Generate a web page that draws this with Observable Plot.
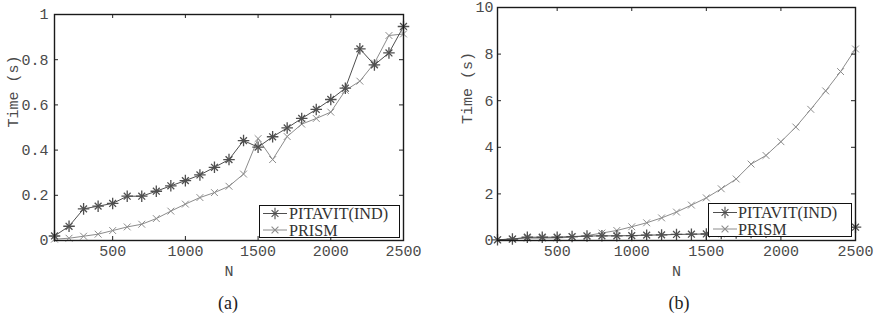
<!DOCTYPE html>
<html><head><meta charset="utf-8">
<script src="https://cdn.jsdelivr.net/npm/d3@7"></script>
<script src="https://cdn.jsdelivr.net/npm/@observablehq/plot@0.6"></script>
<style>
body{margin:0;background:#fff;}
#wrap{position:relative;width:874px;height:321px;overflow:hidden;background:#fff;}
.panel{position:absolute;top:0;}
.cap{position:absolute;font-family:"Liberation Serif","DejaVu Serif",serif;font-size:18px;color:#222;transform:translateX(-50%);white-space:nowrap;}
.legend{position:absolute;border:1.5px solid #111;background:#fff;box-sizing:border-box;}
</style></head>
<body><div id="wrap"></div>
<script>
// ---- data ----
const N = [100,200,300,400,500,600,700,800,900,1000,1100,1200,1300,1400,1500,1600,1700,1800,1900,2000,2100,2200,2300,2400,2500];
const seriesNames = ["PITAVIT(IND)", "PRISM"];
const pitavitA = [0.02,0.063,0.14,0.152,0.164,0.196,0.196,0.218,0.242,0.265,0.29,0.324,0.358,0.442,0.413,0.459,0.498,0.54,0.58,0.624,0.674,0.848,0.777,0.83,0.947];
const prismA   = [0.006,0.01,0.019,0.028,0.044,0.06,0.072,0.097,0.13,0.161,0.19,0.212,0.24,0.294,0.451,0.358,0.46,0.515,0.54,0.568,0.664,0.705,0.785,0.907,0.914];
const pitavitB = [0.03,0.06,0.14,0.14,0.14,0.17,0.19,0.2,0.2,0.21,0.23,0.24,0.26,0.27,0.28,0.3,0.32,0.34,0.36,0.39,0.42,0.45,0.49,0.53,0.57];
const prismB   = [0.03,0.07,0.1,0.1,0.11,0.14,0.21,0.32,0.43,0.59,0.76,0.97,1.22,1.52,1.83,2.22,2.64,3.28,3.65,4.24,4.87,5.63,6.42,7.25,8.22];
const xTicks = [500,1000,1500,2000,2500];
const yTicksA = [0,0.2,0.4,0.6,0.8,1];
const yTicksB = [0,2,4,6,8,10];
const xLabel = "N";
const yLabel = "Time (s)";
const captions = ["(a)", "(b)"];

const C_PIT = "#4f4f4f", C_PRI = "#8c8c8c", C_TXT = "#4a4a4a";
const wrap = document.getElementById("wrap");

function panel(cfg) {
  const {left, width, height, mL, mR, mT, mB, yDomain, yTicks, pit, pri, pad, ylabDx} = cfg;
  const rows = (ys) => N.map((n, i) => ({n, t: ys[i]}));
  const iw = width - mL - mR, ih = height - mT - mB;
  const tk = 4;
  const p = Plot.plot({
    width, height, marginLeft: mL, marginRight: mR, marginTop: mT, marginBottom: mB,
    style: {fontFamily: "'Liberation Mono', 'DejaVu Sans Mono', monospace", fontSize: "15px", color: C_TXT, background: "#fff", overflow: "visible"},
    x: {domain: [100, 2500]},
    y: {domain: yDomain},
    marks: [
      Plot.line(rows(pri), {x: "n", y: "t", stroke: C_PRI, strokeWidth: 1}),
      Plot.line(rows(pit), {x: "n", y: "t", stroke: C_PIT, strokeWidth: 1}),
      Plot.dot(rows(pri), {x: "n", y: "t", symbol: "times", r: 3.2, stroke: C_PRI, strokeWidth: 1}),
      Plot.dot(rows(pit), {x: "n", y: "t", symbol: "plus", r: 3.8, stroke: C_PIT, strokeWidth: 1.3}),
      Plot.dot(rows(pit), {x: "n", y: "t", symbol: "times", r: 3.2, stroke: C_PIT, strokeWidth: 1.3}),
      // inward ticks on all four sides
      Plot.tickY(yTicks, {y: d => d, insetRight: iw - tk, stroke: "#222"}),
      Plot.tickY(yTicks, {y: d => d, insetLeft: iw - tk, stroke: "#222"}),
      Plot.tickX(xTicks, {x: d => d, insetTop: ih - tk, stroke: "#222"}),
      Plot.tickX(xTicks, {x: d => d, insetBottom: ih - tk, stroke: "#222"}),
      Plot.frame({stroke: "#1a1a1a", strokeWidth: 1.4}),
      Plot.axisX(xTicks, {tickSize: 0, tickPadding: 5, label: null, tickFormat: d => String(d)}),
      Plot.axisY(yTicks, {tickSize: 0, tickPadding: pad, label: null, tickFormat: d => String(d)}),
      Plot.text([xLabel], {frameAnchor: "bottom", dy: 35, fill: C_TXT}),
      Plot.text([yLabel], {frameAnchor: "left", rotate: -90, dx: ylabDx, fill: C_TXT})
    ]
  });
  p.classList.add("panel");
  p.style.left = left + "px";
  wrap.appendChild(p);
}

panel({left: 0, width: 440, height: 321, mL: 54, mR: 37, mT: 14, mB: 81, yDomain: [0, 1], yTicks: yTicksA, pit: pitavitA, pri: prismA, pad: 6, ylabDx: -41});
panel({left: 440, width: 434, height: 321, mL: 57, mR: 19, mT: 7, mB: 81, yDomain: [0, 10], yTicks: yTicksB, pit: pitavitB, pri: prismB, pad: 4, ylabDx: -30});

function legend(x, y, w, h, lx0, lx1, tx, rowY) {
  const d = document.createElement("div");
  d.className = "legend";
  Object.assign(d.style, {left: x + "px", top: y + "px", width: w + "px", height: h + "px"});
  const svg = d3.create("svg").attr("width", w).attr("height", h).style("position", "absolute").style("left", "-1.5px").style("top", "-1.5px").style("overflow", "visible");
  const styles = [{c: C_PIT, sym: ["plus", "times"]}, {c: C_PRI, sym: ["times"]}];
  seriesNames.forEach((name, i) => {
    const yy = rowY[i];
    svg.append("line").attr("x1", lx0).attr("x2", lx1).attr("y1", yy).attr("y2", yy).attr("stroke", styles[i].c);
    styles[i].sym.forEach(s => {
      const sy = s === "plus" ? d3.symbolPlus : d3.symbolTimes;
      svg.append("path").attr("d", d3.symbol(sy, s === "plus" ? 45 : 32)()).attr("transform", `translate(${(lx0 + lx1) / 2},${yy})`)
        .attr("fill", "none").attr("stroke", styles[i].c).attr("stroke-width", 1.1);
    });
    svg.append("text").attr("x", tx).attr("y", yy).attr("dy", "0.36em").text(name)
      .attr("font-family", "Liberation Serif, DejaVu Serif, serif").attr("font-size", 16.2).attr("fill", "#333");
  });
  d.appendChild(svg.node());
  wrap.appendChild(d);
}
legend(259, 205, 141, 33, 4, 28, 30, [8.5, 25]);
legend(708, 203, 144, 34, 5, 29, 30, [9.5, 26]);

captions.forEach((c, i) => {
  const el = document.createElement("div");
  el.className = "cap";
  el.textContent = c;
  el.style.left = (i === 0 ? 228 : 679) + "px";
  el.style.top = "293px";
  wrap.appendChild(el);
});
</script></body></html>
